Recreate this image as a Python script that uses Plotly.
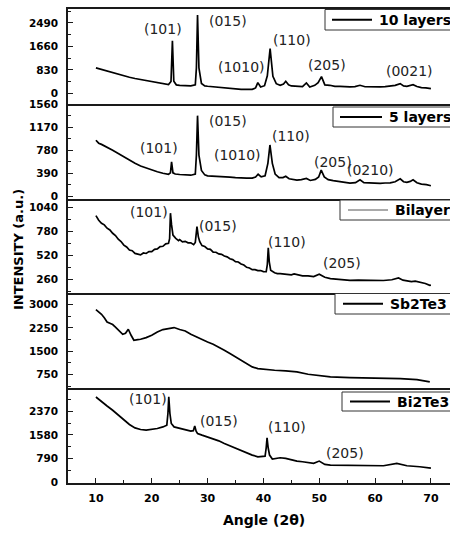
import plotly.graph_objects as go

# ---------------- data (2-theta, intensity) ----------------
XRD_10_LAYERS = [(10, 900), (11, 840), (12, 780), (13, 720), (14, 662), (15, 612), (16, 567), (17, 525),
                 (18, 485), (19, 442), (20, 402), (21, 365), (22, 331), (23, 309), (23.45, 420), (23.7, 1855),
                 (23.95, 430), (24.4, 300), (25, 284), (26, 272), (27, 262), (27.8, 300), (28.0, 900),
                 (28.2, 2770), (28.45, 900), (28.9, 350), (29.5, 265), (30, 250), (31, 230), (32, 213),
                 (33, 190), (34, 166), (35, 150), (36, 142), (37, 145), (38, 142), (38.6, 190), (39.0, 378),
                 (39.5, 225), (40.2, 270), (40.7, 620), (41.2, 1580), (41.7, 600), (42.3, 340), (43, 284),
                 (43.6, 330), (44.0, 426), (44.5, 300), (45, 262), (46, 260), (47, 235), (47.7, 367),
                 (48.3, 225), (49.2, 284), (49.8, 380), (50.4, 590), (51.0, 300), (51.9, 284), (52.8, 248),
                 (53.7, 248), (54.6, 232), (55.5, 225), (56.4, 240), (57.3, 284), (58.2, 232), (59.1, 225),
                 (60, 228), (60.9, 225), (61.8, 236), (62.7, 248), (63.6, 280), (64.5, 343), (65.1, 262),
                 (65.7, 248), (66.3, 280), (66.8, 307), (67.5, 240), (68.3, 202), (69.1, 195), (70, 166)]

XRD_5_LAYERS = [(10, 950), (10.5, 900), (11, 880), (12, 835), (13, 780), (14, 725), (15, 668), (16, 614),
                (17, 560), (18, 514), (19, 478), (20, 448), (21, 418), (22, 393), (23, 376), (23.35, 400),
                (23.55, 586), (23.8, 400), (24.2, 380), (25, 372), (26, 365), (27, 360), (27.8, 380),
                (28.0, 700), (28.2, 1365), (28.45, 700), (28.9, 440), (29.5, 365), (30, 349), (31, 346),
                (32, 343), (33, 335), (34, 327), (35, 318), (36, 310), (37, 312), (38, 310), (38.6, 330),
                (39.05, 376), (39.6, 332), (40.3, 350), (40.8, 560), (41.17, 870), (41.6, 560), (42.1, 380),
                (42.8, 320), (43.5, 320), (44.0, 343), (44.6, 300), (45.3, 288), (46, 277), (46.8, 285),
                (47.7, 304), (48.4, 271), (49.3, 290), (49.9, 330), (50.35, 445), (50.9, 330), (51.6, 285),
                (52.5, 268), (53.5, 254), (54.5, 240), (55.5, 227), (56.5, 235), (57.3, 282), (58.0, 235),
                (59.1, 227), (60, 225), (60.9, 221), (61.8, 228), (62.7, 232), (63.6, 250), (64.5, 299),
                (65.1, 250), (65.7, 238), (66.3, 255), (66.8, 282), (67.5, 232), (68.3, 210), (69.2, 200),
                (70, 182)]

XRD_BILAYER = [(10, 951), (10.5, 900), (11, 868), (11.5, 850), (12, 814), (12.5, 795), (13, 759), (13.5, 735),
               (14, 694), (14.5, 670), (15, 631), (15.5, 610), (16, 577), (16.5, 570), (17, 541), (17.5, 530),
               (18, 525), (18.5, 545), (19, 540), (19.5, 560), (20, 560), (20.5, 585), (21, 590), (21.5, 615),
               (22, 618), (22.5, 645), (23, 650), (23.2, 700), (23.35, 977), (23.55, 850), (23.8, 740),
               (24.3, 704), (24.8, 680), (25, 690), (25.5, 665), (26, 672), (26.5, 655), (27, 655),
               (27.5, 635), (27.8, 660), (28.1, 831), (28.35, 720), (28.6, 667), (29, 625), (29.5, 615),
               (30, 590), (30.5, 585), (31, 555), (31.5, 553), (32, 535), (32.5, 530), (33, 512), (33.5, 503),
               (34, 482), (34.5, 473), (35, 452), (35.5, 448), (36, 426), (36.5, 415), (37, 390), (37.5, 383),
               (38, 365), (38.5, 365), (39, 354), (39.5, 355), (40, 343), (40.5, 342), (40.7, 420),
               (40.87, 602), (41.05, 450), (41.3, 358), (42, 331), (42.5, 322), (43, 322), (44, 312),
               (45, 309), (45.5, 318), (46, 312), (47, 298), (48, 297), (49, 290), (50, 315), (50.5, 295),
               (51, 282), (52, 268), (53, 262), (54, 255), (55.5, 249), (57, 252), (58.5, 249), (60, 250),
               (61.5, 247), (63, 255), (64.2, 274), (65, 250), (65.7, 241), (66.5, 235), (67.2, 240),
               (68, 228), (69, 215), (69.8, 194), (70, 196)]

XRD_SB2TE3 = [(10, 2842), (10.5, 2770), (11, 2691), (11.5, 2580), (12, 2443), (12.5, 2400), (13, 2359),
              (13.5, 2280), (14, 2199), (14.5, 2110), (14.8, 2047), (15.3, 2079), (15.8, 2208), (16.3, 2015),
              (16.8, 1854), (17.5, 1875), (18, 1886), (19, 1940), (20, 2015), (21, 2121), (22, 2199),
              (23, 2231), (24, 2263), (25, 2199), (26, 2154), (27, 2047), (28, 1960), (29, 1876), (30, 1799),
              (31, 1725), (32, 1639), (33, 1532), (34, 1426), (35, 1317), (36, 1188), (37, 1082), (38, 995),
              (39, 943), (40, 921), (42, 888), (44, 866), (46, 834), (48, 760), (50, 705), (52, 673),
              (55.5, 653), (58.5, 641), (61.5, 641), (64.5, 621), (67.5, 589), (69.8, 512)]

XRD_BI2TE3 = [(10, 2841), (11, 2675), (12, 2542), (13, 2400), (14, 2234), (15, 2068), (16, 1925), (17, 1812),
              (18, 1759), (19, 1736), (20, 1759), (21, 1792), (22, 1845), (22.7, 1902), (22.9, 2300),
              (23.05, 2850), (23.25, 2300), (23.5, 1958), (24, 1845), (25, 1792), (26, 1759), (27, 1703),
              (27.45, 1720), (27.7, 1879), (27.95, 1700), (28.2, 1626), (29, 1570), (30, 1514), (31, 1460),
              (32, 1381), (33, 1294), (34, 1215), (35, 1128), (36, 1049), (37, 982), (38, 906), (39, 850),
              (40, 850), (40.3, 872), (40.5, 1150), (40.65, 1481), (40.85, 1150), (41.1, 906), (41.6, 773),
              (43, 817), (44, 796), (45, 740), (46, 707), (47, 684), (48, 664), (49, 630), (50, 707),
              (51, 597), (52, 574), (55.5, 574), (58.5, 551), (61.5, 551), (63.9, 630), (65.7, 551),
              (68, 518), (69.8, 465), (70, 470)]

SERIES_NAMES = ["10 layers", "5 layers", "Bilayer", "Sb2Te3", "Bi2Te3"]
SERIES_DATA = [XRD_10_LAYERS, XRD_5_LAYERS, XRD_BILAYER, XRD_SB2TE3, XRD_BI2TE3]

Y_TICKS = [[0, 830, 1660, 2490], [0, 390, 780, 1170, 1560], [260, 520, 780, 1040],
           [750, 1500, 2250, 3000], [0, 790, 1580, 2370]]
X_TICKS = [10, 20, 30, 40, 50, 60, 70]

PEAK_LABELS = [
    ["(101)", "(015)", "(1010)", "(110)", "(205)", "(0021)"],
    ["(101)", "(015)", "(1010)", "(110)", "(205)", "(0210)"],
    ["(101)", "(015)", "(110)", "(205)"],
    [],
    ["(101)", "(015)", "(110)", "(205)"],
]

# ---------------- layout / styling ----------------
Y_RANGES = [[-370, 2980], [-35, 1565], [107, 1135], [310, 3363], [-23, 3134]]
X_RANGE = [5, 73.42]
LABEL_POS = [
    [(22.06, 2259), (33.6, 2565), (36.1, 933), (45.05, 1880), (51.3, 993), (66.1, 791)],
    [(21.3, 825), (33.6, 1267), (35.4, 697), (44.9, 1029), (52.5, 586), (59.25, 448)],
    [(19.5, 988), (31.9, 842), (44.3, 661), (54.0, 438)],
    [],
    [(19.4, 2765), (32.0, 2035), (44.15, 1845), (54.6, 962)],
]
# legend boxes in pixel coords: (box_left, box_top, box_bottom, line_x0, line_x1, text_x)
LEGEND_PX = [(325, 9.5, 30, 332, 372, 377), (333, 107, 127, 340, 382, 387), (340, 200, 220, 348, 388, 393),
             (335, 293.5, 314, 343, 383, 388), (342, 392, 411, 350, 390, 395)]

W, H = 450, 536
ML, MR, MT, MB = 68, 0, 9, 53
PW, PH = W - ML - MR, H - MT - MB


def px_x(px):
    return (px - ML) / PW


def px_y(py):
    return (H - MB - py) / PH


FONT = "DejaVu Sans"
fig = go.Figure()

for i, (name, data) in enumerate(zip(SERIES_NAMES, SERIES_DATA)):
    k = i + 1
    sx = "" if k == 1 else str(k)
    fig.add_trace(go.Scatter(
        x=[p[0] for p in data], y=[p[1] for p in data], mode="lines", name=name,
        line=dict(color="black", width=1.7), xaxis="x" + sx, yaxis="y" + sx, showlegend=False,
        hoverinfo="x+y"))

    d0, d1 = (4 - i) * 0.2, (5 - i) * 0.2
    bottom = (k == 5)
    fig.layout["xaxis" + sx] = dict(
        domain=[0, 1], anchor="y" + sx, range=X_RANGE, showgrid=False, zeroline=False,
        showline=True, linecolor="#1a1a1a", linewidth=1.5, mirror=(k == 1),
        ticks="inside" if bottom else "", ticklen=5, tickwidth=1.3, tickcolor="#1a1a1a",
        tickvals=X_TICKS if bottom else [], showticklabels=bottom,
        minor=dict(ticks="inside", ticklen=3, tickwidth=1.3, dtick=5, tick0=5, tickcolor="#1a1a1a") if bottom else dict(ticks=""),
        tickfont=dict(family=FONT, size=11, color="black", weight="bold"),
        ticklabelstandoff=4,
    )
    yt = Y_TICKS[i]
    step = yt[1] - yt[0]
    fig.layout["yaxis" + sx] = dict(
        domain=[d0, d1], anchor="x" + sx, range=Y_RANGES[i], showgrid=False, zeroline=False,
        showline=True, linecolor="#1a1a1a", linewidth=1.5,
        ticks="inside", ticklen=5, tickwidth=1.3, tickcolor="#1a1a1a", tickvals=yt,
        minor=dict(ticks="inside", ticklen=3, tickwidth=1.3, dtick=step / 2, tick0=yt[0], tickcolor="#1a1a1a"),
        tickfont=dict(family=FONT, size=10.5, color="black", weight="bold"),
        ticklabelstandoff=6,
    )

    # peak labels
    for txt, (lx, ly) in zip(PEAK_LABELS[i], LABEL_POS[i]):
        fig.add_annotation(x=lx, y=ly, xref="x" + sx, yref="y" + sx, text=txt, showarrow=False,
                           font=dict(family=FONT, size=14, color="#222"), xanchor="center", yanchor="middle")

    # legend box
    bx, bt, bb, lx0, lx1, tx = LEGEND_PX[i]
    fig.add_shape(type="rect", xref="paper", yref="paper", x0=px_x(bx), x1=1.2, y0=px_y(bb), y1=px_y(bt),
                  line=dict(color="#333", width=1), fillcolor="white", layer="above")
    cy = (bt + bb) / 2
    thin = (name == "Bilayer")
    fig.add_shape(type="line", xref="paper", yref="paper", x0=px_x(lx0), x1=px_x(lx1), y0=px_y(cy), y1=px_y(cy),
                  line=dict(color="#555" if thin else "black", width=1 if thin else 1.8), layer="above")
    fig.add_annotation(x=px_x(tx), y=px_y(cy), xref="paper", yref="paper", text=name, showarrow=False,
                       xanchor="left", yanchor="middle",
                       font=dict(family=FONT, size=14, color="black", weight="bold"))

# axis titles
fig.add_annotation(x=px_x(263.5), y=px_y(520), xref="paper", yref="paper", text="Angle (2θ)", showarrow=False,
                   xanchor="center", yanchor="middle", font=dict(family=FONT, size=14, color="black", weight="bold"))
fig.add_annotation(x=px_x(18), y=px_y(250), xref="paper", yref="paper", text="INTENSITY (a.u.)", showarrow=False,
                   textangle=-90, xanchor="center", yanchor="middle",
                   font=dict(family=FONT, size=13, color="black", weight="bold"))

fig.update_layout(width=W, height=H, margin=dict(l=ML, r=MR, t=MT, b=MB, autoexpand=False),
                  paper_bgcolor="white", plot_bgcolor="white", showlegend=False)

fig.write_html("out.html")
